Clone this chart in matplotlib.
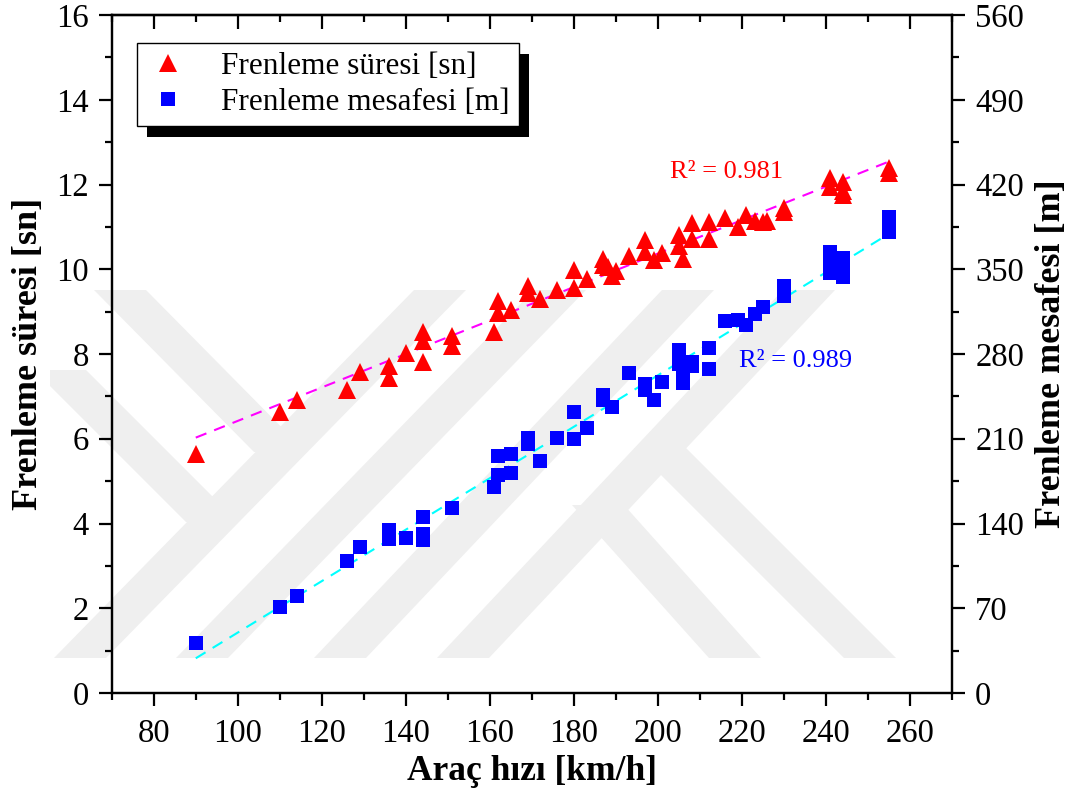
import numpy as np
import matplotlib
matplotlib.use('Agg')
import matplotlib.pyplot as plt
from matplotlib.patches import Polygon, Rectangle
from matplotlib.lines import Line2D
from matplotlib.ticker import MultipleLocator

plt.rcParams['font.family'] = 'Liberation Serif'

# Frenleme süresi [sn] (sol eksen)
speed_t = [90, 110, 114, 126, 129, 136, 136, 140, 144, 144, 144, 151, 151,
           161, 162, 162, 165, 169, 169, 172, 176, 180, 180, 183, 187, 187,
           188, 189, 190, 193, 197, 197, 199, 201, 205, 205, 206, 208, 208,
           212, 212, 216, 219, 221, 223, 225, 226, 230, 230, 241, 241, 244,
           244, 244, 255, 255]
time_s = [5.65, 6.62, 6.92, 7.15, 7.58, 7.72, 7.44, 8.02, 8.52, 8.30, 7.80, 8.42, 8.18,
          8.53, 9.25, 8.97, 9.05, 9.60, 9.45, 9.30, 9.50, 9.98, 9.56, 9.78, 10.25, 10.10,
          10.05, 9.85, 9.95, 10.32, 10.70, 10.40, 10.22, 10.38, 10.80, 10.55, 10.25, 11.10, 10.72,
          11.12, 10.72, 11.22, 11.00, 11.27, 11.15, 11.12, 11.13, 11.45, 11.35, 12.15, 11.95, 12.05,
          11.85, 11.75, 12.38, 12.28]

# Frenleme mesafesi [m] (sag eksen)
speed_d = [90, 110, 114, 126, 129, 136, 136, 140, 144, 144, 144, 151,
           161, 162, 162, 165, 165, 169, 169, 172, 176, 180, 180, 183, 187, 187,
           189, 193, 197, 197, 199, 201, 205, 205, 206, 206, 208, 208,
           212, 212, 216, 219, 221, 223, 225, 230, 230, 241, 241, 241,
           244, 244, 244, 255, 255, 255]
dist_m = [41, 71, 80, 109, 121, 135, 127, 128, 145, 131, 126, 153,
          170, 180, 196, 197, 182, 211, 206, 192, 211, 232, 210, 219, 246, 242,
          236, 264, 255, 250, 242, 257, 283, 272, 256, 266, 273, 270,
          285, 268, 307, 308, 304, 313, 319, 336, 328, 364, 355, 347,
          359, 351, 344, 393, 387, 381]

r2_time = 0.981
r2_dist = 0.989

W, H = 1081, 796
fig = plt.figure(figsize=(W / 100, H / 100), dpi=100)
ax = fig.add_axes([111.7 / W, 1 - 693 / H, (952.3 - 111.7) / W, (693 - 15) / H])
ax.patch.set_visible(False)


def px(x, y):
    return (x / W, 1 - y / H)


# arka plandaki soluk filigran
wm_clip = Rectangle(px(50, 658), (951 - 50) / W, (658 - 290) / H,
                    transform=fig.transFigure, visible=False)
fig.add_artist(wm_clip)
wm_bands = [((440, 290), (80, 658)), ((560, 290), (202, 658)),
            ((688, 290), (340, 658)), ((809, 290), (463, 658)),
            ((120, 290), (280, 452)), ((60, 370), (212, 522)),
            ((598, 505), (735, 658)), ((660, 448), (870, 658))]
for (x0, y0), (x1, y1) in wm_bands:
    h = 26
    poly = Polygon([px(x0 - h, y0), px(x0 + h, y0), px(x1 + h, y1), px(x1 - h, y1)],
                   closed=True, transform=fig.transFigure, facecolor='#efefef',
                   edgecolor='none', zorder=-1)
    poly.set_clip_path(wm_clip)
    fig.add_artist(poly)

ax2 = ax.twinx()

ax.plot(speed_t, time_s, '^', color='red', markersize=13, markeredgewidth=0, zorder=3)
ax2.plot(speed_d, dist_m, 's', color='blue', markersize=9.8, markeredgewidth=0, zorder=3)

# dogrusal uyum
xf = np.array([min(speed_t), max(speed_t)])
k1, b1 = np.polyfit(speed_t, time_s, 1)
ax.plot(xf, k1 * xf + b1, color='magenta', lw=1.5, ls=(0, (5.5, 4)), zorder=2)
xf2 = np.array([min(speed_d), max(speed_d)])
k2, b2 = np.polyfit(speed_d, dist_m, 1)
ax2.plot(xf2, k2 * xf2 + b2, color='cyan', lw=1.5, ls=(0, (5.5, 4)), zorder=2)

ax.text(216.3, 12.29, f'R² = {r2_time:.3f}', color='red', fontsize=19, ha='center', va='center')
ax2.text(232.8, 274, f'R² = {r2_dist:.3f}', color='blue', fontsize=19, ha='center', va='center')

ax.set_xlim(70, 270)
ax.set_ylim(0, 16)
ax2.set_ylim(0, 560)
ax.xaxis.set_major_locator(MultipleLocator(20))
ax.xaxis.set_minor_locator(MultipleLocator(10))
ax.yaxis.set_major_locator(MultipleLocator(2))
ax.yaxis.set_minor_locator(MultipleLocator(1))
ax2.yaxis.set_major_locator(MultipleLocator(70))
ax2.yaxis.set_minor_locator(MultipleLocator(35))

for a in (ax, ax2):
    for s in a.spines.values():
        s.set_linewidth(1.6)
    a.tick_params(which='major', length=9.5, width=1.6, direction='out', labelsize=23.5, pad=7)
    a.tick_params(which='minor', length=5, width=1.6, direction='out')
ax.tick_params(axis='x', which='major', pad=9)

top = ax.secondary_xaxis('top')
top.xaxis.set_major_locator(MultipleLocator(20))
top.xaxis.set_minor_locator(MultipleLocator(10))
top.tick_params(which='major', length=10, width=1.6, direction='in', labeltop=False)
top.tick_params(which='minor', length=5, width=1.6, direction='in')
top.spines['top'].set_linewidth(1.6)

ax.set_xlabel('Araç hızı [km/h]', fontsize=25.5, fontweight='bold', labelpad=4)
ax.set_ylabel('Frenleme süresi [sn]', fontsize=26, fontweight='bold', labelpad=8)
ax2.set_ylabel('Frenleme mesafesi [m]', fontsize=26, fontweight='bold', labelpad=8)

handles = [Line2D([], [], ls='none', marker='^', color='red', markersize=13, markeredgewidth=0),
           Line2D([], [], ls='none', marker='s', color='blue', markersize=9.8, markeredgewidth=0)]
leg = ax2.legend(handles, ['Frenleme süresi [sn]', 'Frenleme mesafesi [m]'],
                 loc='upper left', bbox_to_anchor=px(137, 43), bbox_transform=fig.transFigure,
                 borderaxespad=0, fontsize=22.5, fancybox=False, edgecolor='black',
                 framealpha=1, handlelength=1.4, handletextpad=1.0, labelspacing=0.2,
                 borderpad=0.3)
leg.get_frame().set_linewidth(1.0)
leg.set_zorder(10)

fig.canvas.draw()
bb = leg.get_frame().get_window_extent()
shadow = Rectangle(((bb.x0 + 10) / W, (bb.y0 - 11) / H), bb.width / W, bb.height / H,
                   transform=fig.transFigure, facecolor='black', edgecolor='none',
                   zorder=9, clip_on=False)
ax2.add_patch(shadow)

fig.savefig('out.png', dpi=100)
